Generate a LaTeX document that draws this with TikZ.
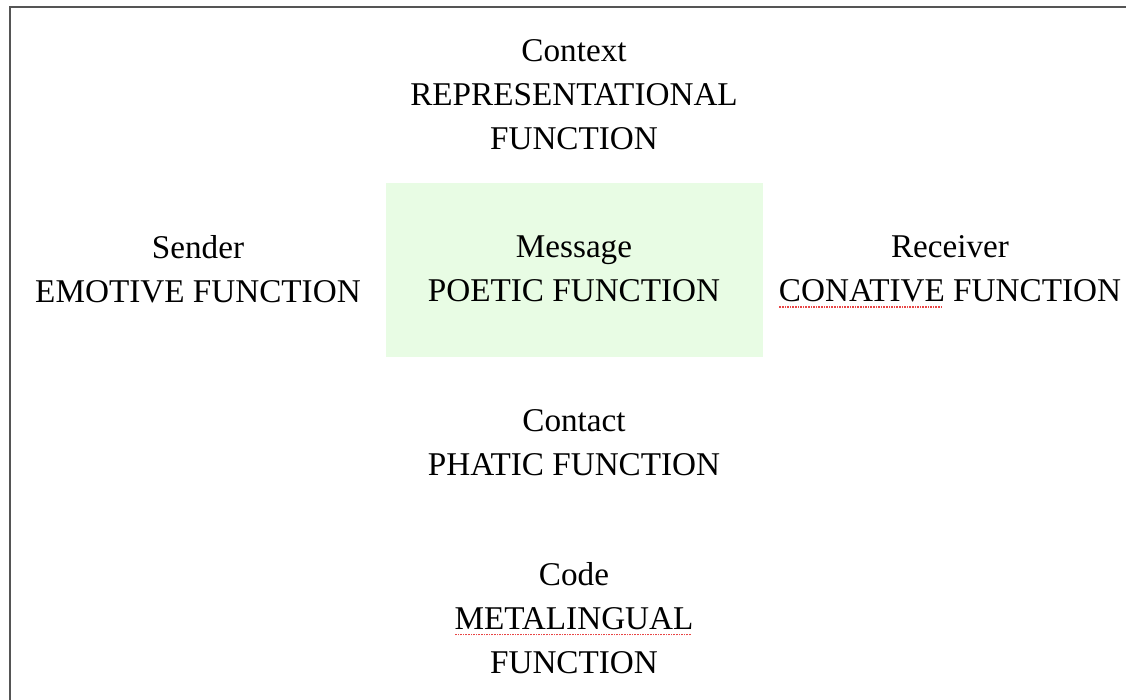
\documentclass[tikz,border=0pt]{standalone}
\usepackage{fontspec}
\setmainfont{Liberation Serif}
\definecolor{msgfill}{RGB}{232,252,228}
\definecolor{framegray}{RGB}{85,85,85}
\definecolor{spellred}{RGB}{232,70,70}
\newcommand\spellmark[1]{\setbox0=\hbox{#1}\rlap{\smash{\raisebox{-6pt}{\textcolor{spellred}{\hbox to \wd0{\leaders\hbox to 2.6pt{\hss\rule{1.5pt}{1.5pt}\hss}\hfill}}}}}\box0\relax}
\tikzset{
  lbl/.style={align=center, inner sep=0pt, font=\fontsize{33.2}{44}\selectfont},
  msgbox/.style={fill=msgfill, draw=none},
  frame/.style={draw=framegray, line width=2pt}
}
\begin{document}
\begin{tikzpicture}[x=1pt,y=-1pt]
\useasboundingbox (0,0) rectangle (1126,700);
\draw[frame] (9.5,700) -- (9.5,7.5) -- (1126,7.5);
\fill[msgbox] (386,183) rectangle (763,357);
\node[lbl] (context) at (574,95) {Context\\REPRESENTATIONAL\\FUNCTION};
\node[lbl] (sender) at (198,269) {Sender\\EMOTIVE FUNCTION};
\node[lbl] (message) at (574,269) {Message\\POETIC FUNCTION};
\node[lbl] (receiver) at (950,269) {Receiver\\\spellmark{CONATIVE} FUNCTION};
\node[lbl] (contact) at (574,443) {Contact\\PHATIC FUNCTION};
\node[lbl] (code) at (574,618) {Code\\\spellmark{METALINGUAL}\\FUNCTION};
\end{tikzpicture}
\end{document}
